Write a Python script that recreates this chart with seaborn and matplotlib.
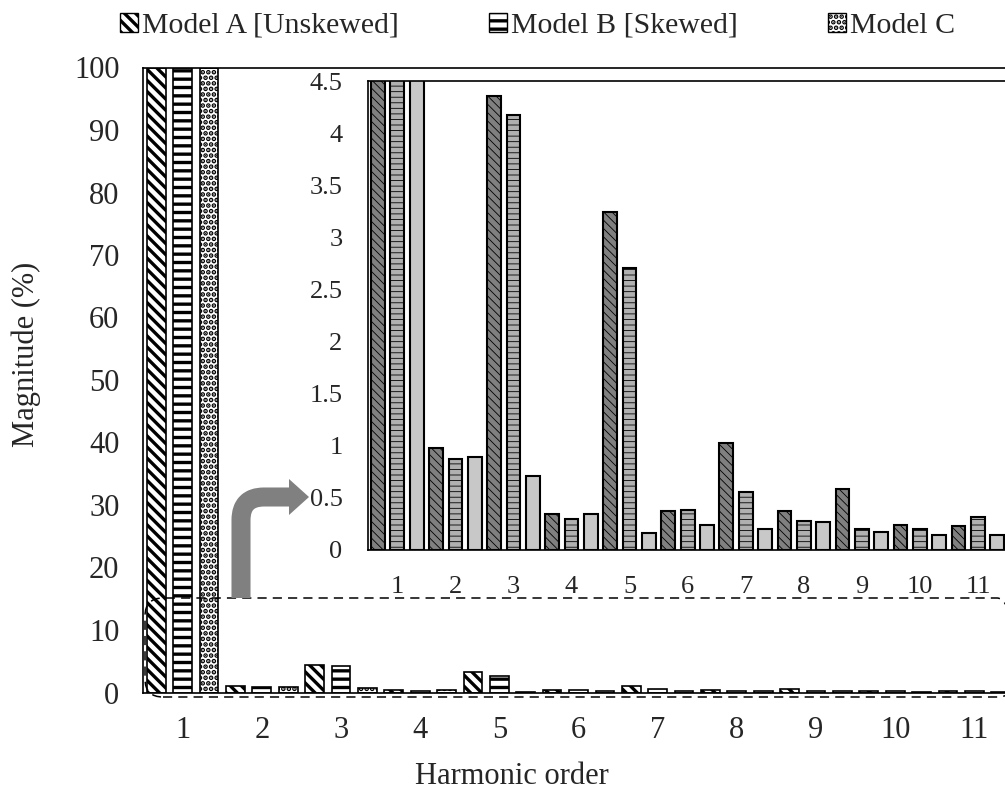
import numpy as np
import pandas as pd
import matplotlib
import matplotlib.pyplot as plt
import matplotlib.patches as mpatches
from matplotlib.path import Path
from matplotlib.transforms import IdentityTransform
import seaborn as sns

# harmonic spectrum values (%), fundamental is 100
harmonics = ["1", "2", "3", "4", "5", "6", "7", "8", "9", "10", "11"]
model_a = [100, 0.98, 4.36, 0.34, 3.24, 0.37, 1.02, 0.37, 0.58, 0.24, 0.23]
model_b = [100, 0.87, 4.18, 0.29, 2.71, 0.38, 0.55, 0.27, 0.20, 0.20, 0.31]
model_c = [100, 0.89, 0.71, 0.34, 0.16, 0.24, 0.20, 0.26, 0.17, 0.14, 0.14]
models = ["Model A [Unskewed]", "Model B [Skewed]", "Model C"]

main_ticks = list(range(0, 101, 10))
inset_ticks = [0, 0.5, 1, 1.5, 2, 2.5, 3, 3.5, 4, 4.5]

df = pd.DataFrame({
    "Harmonic": harmonics * 3,
    "Magnitude": model_a + model_b + model_c,
    "Model": np.repeat(models, len(harmonics)),
})

sns.set_style("white")
plt.rcParams["font.family"] = ["Liberation Serif", "DejaVu Serif"]
plt.rcParams["hatch.linewidth"] = 2.4

W, H = 1005, 791
fig = plt.figure(figsize=(W / 100, H / 100), dpi=100)


def box(l, t, r, b):
    return [l / W, 1 - b / H, (r - l) / W, (b - t) / H]


ax = fig.add_axes(box(143, 67.5, 1014, 692.5))
ins = fig.add_axes(box(368.3, 81.3, 1007, 549.5))

# main chart: white bars, black hatches
sns.barplot(data=df, x="Harmonic", y="Magnitude", hue="Model",
            palette=["white"] * 3, width=1.0, gap=0.29,
            edgecolor="black", linewidth=1.2, legend=False, ax=ax)
main_hatch = ["\\\\\\", "--", "..."]
for cont, h in zip(ax.containers, main_hatch):
    for p in cont:
        p.set_hatch(h)

# inset: grey bars, same data zoomed
sns.barplot(data=df, x="Harmonic", y="Magnitude", hue="Model",
            palette=["#808080", "#b0b0b0", "#c8c8c8"], width=1.0, gap=0.29,
            edgecolor="black", linewidth=1.5, legend=False, ax=ins)
inset_hatch = ["\\\\\\\\", "---", ""]
for cont, h in zip(ins.containers, inset_hatch):
    for p in cont:
        p.set_hatch(h)
        try:
            p.set_hatch_linewidth(0.6)
        except AttributeError:
            pass

for a, ticks, fs, ypad, xpad in [(ax, main_ticks, 22, 11, 17), (ins, inset_ticks, 19, 12.5, 19)]:
    a.set_xlim(-0.5, 10.5)
    a.set_ylim(ticks[0], ticks[-1])
    a.set_yticks(ticks)
    a.set_yticklabels([f"{t:g}" for t in ticks], fontsize=fs)
    a.set_xticks(range(len(harmonics)))
    a.set_xticklabels(harmonics, fontsize=fs)
    a.set_xticks(np.arange(-0.5, len(harmonics)), minor=True)
    a.tick_params(axis="x", which="major", length=0, pad=xpad)
    a.tick_params(axis="x", which="minor", direction="inout", length=12,
                  width=1, color="#444444")
    a.tick_params(axis="y", direction="inout", length=12, width=1,
                  color="#444444", pad=ypad)
    a.spines["right"].set_visible(False)
    for s in ["left", "bottom", "top"]:
        a.spines[s].set_color("black")
        a.spines[s].set_linewidth(1.2)
    a.set_xlabel("")
    a.set_ylabel("")
    a.set_facecolor("white")

ax.set_xlabel("Harmonic order", fontsize=22)
ax.set_ylabel("Magnitude (%)", fontsize=22)
ax.xaxis.set_label_coords(0.4237, -0.135)
ax.xaxis.label.set_va("center")
ax.yaxis.set_label_coords(-0.1335, 0.5416)
ax.yaxis.label.set_va("center")

# dashed zoom region around the small bars
zoom_box = mpatches.FancyBboxPatch((145, H - 697), 870, 99,
                                   boxstyle="round,pad=0,rounding_size=18",
                                   transform=IdentityTransform(), fill=False,
                                   edgecolor="black", linewidth=1.1,
                                   linestyle=(0, (6, 4)), zorder=3)
fig.add_artist(zoom_box)

# grey bent arrow pointing into the inset
verts = [(241, H - 598), (241, H - 520), (241, H - 497), (264, H - 497), (290, H - 497)]
codes = [Path.MOVETO, Path.LINETO, Path.CURVE3, Path.CURVE3, Path.LINETO]
fig.add_artist(mpatches.PathPatch(Path(verts, codes), fill=False,
                                  edgecolor="#808080", linewidth=13.7,
                                  capstyle="butt", joinstyle="round",
                                  transform=IdentityTransform(), zorder=3))
fig.add_artist(mpatches.Polygon([(289, H - 479), (309, H - 497), (289, H - 515)],
                                closed=True, facecolor="#808080", edgecolor="none",
                                transform=IdentityTransform(), zorder=3))

handles = [mpatches.Patch(facecolor="white", edgecolor="black", hatch=h)
           for h in main_hatch]
fig.legend(handles, models, loc="upper left", bbox_to_anchor=(108 / W, 1 - 1 / H),
           ncol=3, frameon=False, fontsize=21.5, handlelength=0.6, handleheight=0.6,
           handletextpad=0.15, columnspacing=3.0, borderaxespad=0)

fig.savefig("out.png", dpi=100)
